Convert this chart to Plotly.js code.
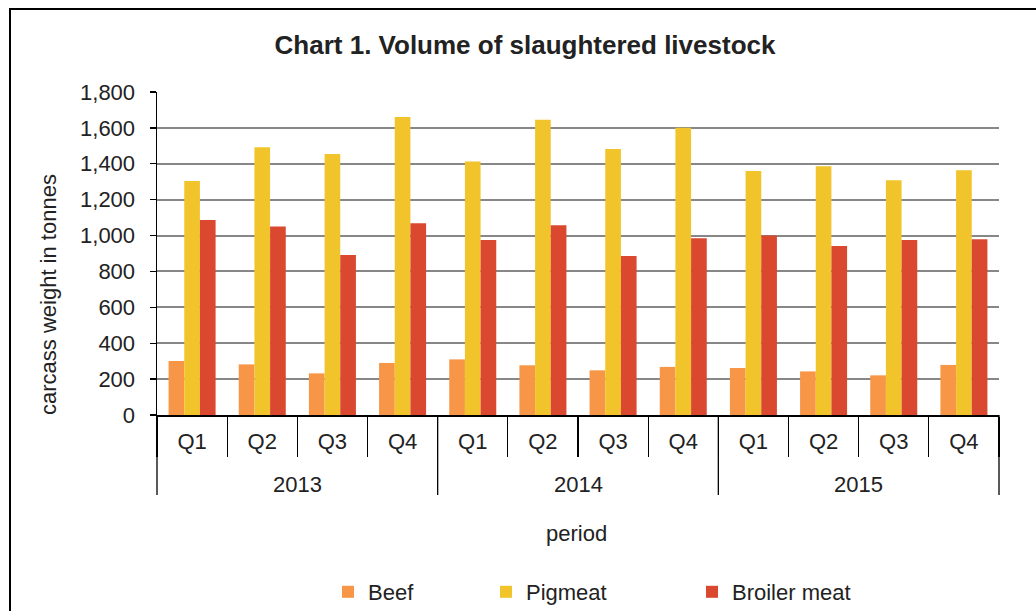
<!DOCTYPE html>
<html>
<head>
<meta charset="utf-8">
<script src="https://cdn.plot.ly/plotly-3.0.1.min.js"></script>
<style>
  html, body { margin: 0; padding: 0; background: #fff; overflow: hidden; }
  #wrap { position: relative; width: 1036px; height: 611px; }
  #chart { width: 1036px; height: 611px; }
  #frame { position: absolute; left: 9px; top: 8px; width: 1100px; height: 700px;
           border-left: 2.5px solid #000; border-top: 2px solid #000; pointer-events: none; }
</style>
</head>
<body>
<div id="wrap">
  <div id="chart"></div>
  <div id="frame"></div>
</div>
<script>
// ---- data ----
const years = ['2013', '2014', '2015'];
const quarters = ['Q1', 'Q2', 'Q3', 'Q4'];
const beef    = [301, 282, 232, 290, 310, 277, 249, 268, 262, 243, 221, 279];
const pigmeat = [1304, 1492, 1455, 1661, 1412, 1646, 1482, 1601, 1360, 1386, 1308, 1364];
const broiler = [1087, 1050, 892, 1068, 975, 1057, 886, 985, 1001, 942, 975, 979];
const seriesNames = ['Beef', 'Pigmeat', 'Broiler meat'];
const yTicks = [0, 200, 400, 600, 800, 1000, 1200, 1400, 1600, 1800];

// period categories (unique keys) and their displayed quarter labels
const periodKeys = [], periodLabels = [];
years.forEach(y => quarters.forEach(q => { periodKeys.push(y + ' ' + q); periodLabels.push(q); }));
const nCats = periodKeys.length;
const perYear = quarters.length;

const FONT = 'Liberation Sans, Arial, sans-serif';
const FS = 22;
const colors = ['#F79646', '#F2C42C', '#D9482F'];
const values = [beef, pigmeat, broiler];
const legends = ['legend', 'legend2', 'legend3'];

const traces = values.map((v, i) => ({
  type: 'bar',
  name: seriesNames[i],
  x: periodKeys,
  y: v,
  marker: { color: colors[i], line: { width: 0 } },
  legend: legends[i],
  hoverinfo: 'x+y+name'
}));

const W = 1036, H = 611;
const mL = 157, mR = 37, mT = 92, mB = 196;
const pw = W - mL - mR, ph = H - mT - mB;
const px = xp => (xp - mL) / pw;
const py = yp => (H - mB - yp) / ph;

function legendAt(xStart) {
  return {
    orientation: 'h', x: px(xStart), xanchor: 'left', y: py(592), yanchor: 'middle',
    font: { family: FONT, size: FS, color: '#222' }, bgcolor: 'rgba(0,0,0,0)', borderwidth: 0
  };
}

// year group labels (centred under each group of quarters) and group dividers
const yearAnnotations = years.map((yr, i) => ({
  text: yr, showarrow: false,
  xref: 'paper', x: (i * perYear + perYear / 2) / nCats, xanchor: 'center',
  yref: 'paper', y: py(484), yanchor: 'middle',
  font: { family: FONT, size: FS, color: '#222' }
}));
const dividerShapes = years.map((_, i) => i).concat([years.length]).map(i => ({
  type: 'line', layer: 'above',
  xref: 'paper', x0: (i * perYear) / nCats, x1: (i * perYear) / nCats,
  yref: 'paper', y0: 0, y1: py(495),
  line: { color: '#000', width: 1.3 }
}));

const layout = {
  width: W, height: H,
  margin: { l: mL, r: mR, t: mT, b: mB, pad: 0, autoexpand: false },
  paper_bgcolor: '#fff', plot_bgcolor: '#fff',
  font: { family: FONT, size: FS, color: '#222' },
  title: {
    text: '<b>Chart 1. Volume of slaughtered livestock</b>',
    font: { family: FONT, size: 26, color: '#222' },
    x: 525 / W, xanchor: 'center', xref: 'container',
    y: 1 - 45 / H, yanchor: 'middle', yref: 'container'
  },
  barmode: 'group', bargap: 0.33, bargroupgap: 0,
  showlegend: true,
  legend: legendAt(328),
  legend2: legendAt(486),
  legend3: legendAt(692),
  xaxis: {
    type: 'category', automargin: false,
    tickmode: 'array', tickvals: periodKeys, ticktext: periodLabels,
    showline: true, linecolor: '#000', linewidth: 1.5,
    ticks: 'outside', tickson: 'boundaries', ticklen: 40, tickcolor: '#000', tickwidth: 1.3,
    ticklabelstandoff: 6,
    showgrid: false, zeroline: false,
    tickfont: { family: FONT, size: FS, color: '#222' }
  },
  yaxis: {
    range: [0, 1800], tickvals: yTicks, tickformat: ',d', automargin: false,
    showline: true, linecolor: '#000', linewidth: 1.5,
    ticks: 'outside', ticklen: 6, tickcolor: '#000', tickwidth: 1.3,
    ticklabelstandoff: 10,
    showgrid: true, gridcolor: '#878787', gridwidth: 2,
    zeroline: false,
    tickfont: { family: FONT, size: FS, color: '#222' }
  },
  shapes: dividerShapes,
  annotations: [
    {
      text: 'carcass weight in tonnes', textangle: -90, showarrow: false,
      xref: 'paper', x: 0, xanchor: 'center', xshift: 48 - mL,
      yref: 'paper', y: py(295), yanchor: 'middle',
      font: { family: FONT, size: FS, color: '#222' }
    },
    {
      text: 'period', showarrow: false,
      xref: 'paper', x: px(576), xanchor: 'center',
      yref: 'paper', y: py(533), yanchor: 'middle',
      font: { family: FONT, size: FS, color: '#222' }
    }
  ].concat(yearAnnotations)
};

Plotly.newPlot('chart', traces, layout, { displayModeBar: false, staticPlot: true });
</script>
</body>
</html>
